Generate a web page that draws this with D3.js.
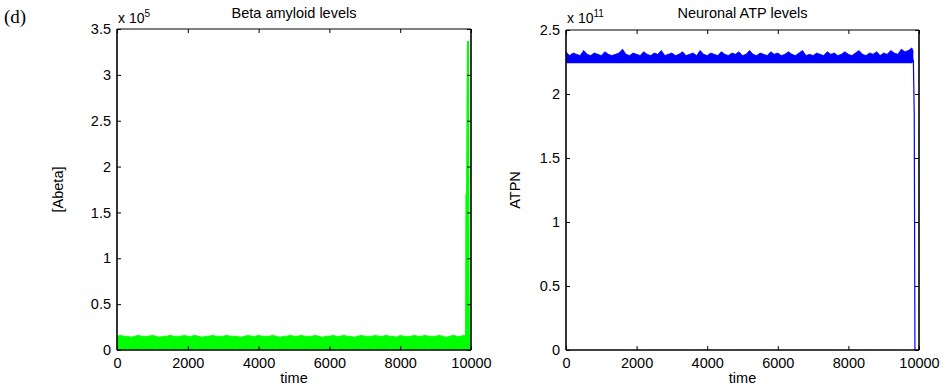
<!DOCTYPE html>
<html>
<head>
<meta charset="utf-8">
<script src="https://cdn.jsdelivr.net/npm/d3@7"></script>
<style>
  body { margin: 0; background: #fff; }
  text { font-family: "Liberation Sans", Arial, sans-serif; fill: #000; }
</style>
</head>
<body>
<div id="chart"></div>
<script>
const w = 946;
const h = 390;

// x categories (time) and tick labels
const xTicks = [0, 2000, 4000, 6000, 8000, 10000];
const abetaTicks = [0, 0.5, 1, 1.5, 2, 2.5, 3, 3.5];
const atpTicks = [0, 0.5, 1, 1.5, 2, 2.5];

// sampling grid of the noisy band (min/max envelope every 100 steps, then the last sample)
const abetaTime = d3.range(0, 9801, 100).concat([9860]);
const atpTime = d3.range(0, 9801, 100).concat([9840]);

// Beta amyloid, units of 1e5
const abetaHi = [0.15, 0.16, 0.15, 0.15, 0.14, 0.15, 0.16, 0.15, 0.15, 0.15,
  0.16, 0.15, 0.14, 0.15, 0.15, 0.16, 0.15, 0.15, 0.15, 0.16,
  0.15, 0.15, 0.16, 0.15, 0.14, 0.15, 0.15, 0.16, 0.15, 0.15,
  0.15, 0.16, 0.15, 0.15, 0.15, 0.14, 0.15, 0.16, 0.15, 0.15,
  0.16, 0.15, 0.15, 0.15, 0.16, 0.15, 0.14, 0.15, 0.15, 0.16,
  0.15, 0.15, 0.16, 0.15, 0.15, 0.15, 0.16, 0.15, 0.14, 0.15,
  0.15, 0.16, 0.15, 0.15, 0.16, 0.15, 0.15, 0.14, 0.15, 0.16,
  0.15, 0.15, 0.15, 0.16, 0.15, 0.15, 0.16, 0.15, 0.15, 0.14,
  0.16, 0.15, 0.15, 0.15, 0.16, 0.15, 0.15, 0.16, 0.15, 0.15,
  0.15, 0.16, 0.15, 0.14, 0.15, 0.16, 0.15, 0.15, 0.16, 0.15];
const abetaLo = [0.01, 0.00, 0.00, 0.01, 0.00, 0.00, 0.00, 0.01, 0.00, 0.00,
  0.00, 0.01, 0.00, 0.00, 0.00, 0.01, 0.00, 0.00, 0.01, 0.00,
  0.00, 0.00, 0.01, 0.00, 0.00, 0.00, 0.01, 0.00, 0.00, 0.00,
  0.01, 0.00, 0.00, 0.00, 0.01, 0.00, 0.00, 0.01, 0.00, 0.00,
  0.00, 0.00, 0.01, 0.00, 0.00, 0.01, 0.00, 0.00, 0.00, 0.01,
  0.00, 0.01, 0.00, 0.00, 0.00, 0.01, 0.00, 0.00, 0.01, 0.00,
  0.00, 0.00, 0.01, 0.00, 0.00, 0.00, 0.01, 0.00, 0.00, 0.00,
  0.01, 0.00, 0.00, 0.01, 0.00, 0.00, 0.00, 0.01, 0.00, 0.00,
  0.00, 0.01, 0.00, 0.00, 0.00, 0.01, 0.00, 0.00, 0.01, 0.00,
  0.00, 0.00, 0.01, 0.00, 0.00, 0.00, 0.01, 0.00, 0.00, 0.00];
const abetaTailT = [9860, 9870, 9885, 9900, 9915, 9930, 9945];
const abetaTailV = [0.15, 1.70, 1.45, 2.60, 3.37, 0.90, 0.00];

// Neuronal ATP, units of 1e11
const atpHi = [2.33, 2.30, 2.32, 2.31, 2.30, 2.34, 2.31, 2.30, 2.32, 2.31,
  2.30, 2.33, 2.31, 2.30, 2.31, 2.32, 2.35, 2.31, 2.30, 2.32,
  2.31, 2.30, 2.33, 2.31, 2.30, 2.32, 2.31, 2.34, 2.30, 2.31,
  2.32, 2.30, 2.31, 2.33, 2.30, 2.31, 2.32, 2.30, 2.34, 2.31,
  2.30, 2.32, 2.31, 2.30, 2.33, 2.31, 2.30, 2.32, 2.31, 2.33,
  2.30, 2.31, 2.34, 2.31, 2.30, 2.32, 2.31, 2.30, 2.33, 2.31,
  2.32, 2.30, 2.31, 2.33, 2.31, 2.30, 2.32, 2.34, 2.30, 2.31,
  2.30, 2.32, 2.31, 2.30, 2.33, 2.31, 2.32, 2.30, 2.31, 2.33,
  2.31, 2.30, 2.32, 2.34, 2.31, 2.30, 2.32, 2.31, 2.33, 2.30,
  2.32, 2.31, 2.34, 2.32, 2.31, 2.35, 2.33, 2.34, 2.36, 2.33];
const atpLo = [2.24, 2.24, 2.24, 2.24, 2.24, 2.24, 2.24, 2.24, 2.24, 2.24,
  2.24, 2.24, 2.24, 2.24, 2.24, 2.24, 2.24, 2.24, 2.24, 2.24,
  2.24, 2.24, 2.24, 2.24, 2.24, 2.24, 2.24, 2.24, 2.24, 2.24,
  2.24, 2.24, 2.24, 2.24, 2.24, 2.24, 2.24, 2.24, 2.24, 2.24,
  2.24, 2.24, 2.24, 2.24, 2.24, 2.24, 2.24, 2.24, 2.24, 2.24,
  2.24, 2.24, 2.24, 2.24, 2.24, 2.24, 2.24, 2.24, 2.24, 2.24,
  2.24, 2.24, 2.24, 2.24, 2.24, 2.24, 2.24, 2.24, 2.24, 2.24,
  2.24, 2.24, 2.24, 2.24, 2.24, 2.24, 2.24, 2.24, 2.24, 2.24,
  2.24, 2.24, 2.24, 2.24, 2.24, 2.24, 2.24, 2.24, 2.24, 2.24,
  2.24, 2.24, 2.24, 2.24, 2.24, 2.24, 2.24, 2.24, 2.24, 2.25];
const atpTailT = [9840, 9865, 9885];
const atpTailV = [2.27, 1.85, 0.00];

const svg = d3.select("#chart")
  .append("svg")
  .attr("width", w)
  .attr("height", h);

svg.append("text")
  .attr("x", 4)
  .attr("y", 23)
  .style("font-family", "'Liberation Serif', 'DejaVu Serif', serif")
  .style("font-size", "19px")
  .text("(d)");

function panel(o) {
  const x = d3.scaleLinear().domain([0, 10000]).range([o.left, o.right]);
  const y = d3.scaleLinear().domain([0, o.ymax]).range([o.bottom, o.top]);

  const g = svg.append("g");

  // noisy band, drawn as its min/max envelope
  const band = o.t.map((t, i) => [t, o.lo[i], o.hi[i]]);
  g.append("path")
    .datum(band)
    .attr("fill", o.color)
    .attr("d", d3.area().x(d => x(d[0])).y0(d => y(d[1])).y1(d => y(d[2])));
  g.append("path")
    .datum(band)
    .attr("fill", "none")
    .attr("stroke", o.color)
    .attr("stroke-width", 0.8)
    .attr("d", d3.line().x(d => x(d[0])).y(d => y(d[2])));

  // final excursion
  const tail = o.tailT.map((t, i) => [t, o.tailV[i]]);
  if (o.tailFill) {
    g.append("path")
      .datum(tail)
      .attr("fill", o.color)
      .attr("d", d3.area().x(d => x(d[0])).y0(y(0)).y1(d => y(d[1])));
  }
  g.append("path")
    .datum(tail)
    .attr("fill", "none")
    .attr("stroke", o.color)
    .attr("stroke-width", o.tailW)
    .attr("d", d3.line().x(d => x(d[0])).y(d => y(d[1])));

  // axes (inward ticks on all four sides, closed box)
  const ax = d3.axisBottom(x).tickValues(xTicks).tickSize(-4).tickPadding(8).tickFormat(d3.format("d"));
  const ay = d3.axisLeft(y).tickValues(o.yTicks).tickSize(-4).tickPadding(6).tickFormat(d => d);
  const axT = d3.axisTop(x).tickValues(xTicks).tickSize(-4).tickFormat("");
  const ayR = d3.axisRight(y).tickValues(o.yTicks).tickSize(-4).tickFormat("");

  g.append("g").attr("transform", "translate(0," + o.bottom + ")").call(ax);
  g.append("g").attr("transform", "translate(" + o.left + ",0)").call(ay);
  g.append("g").attr("transform", "translate(0," + o.top + ")").call(axT);
  g.append("g").attr("transform", "translate(" + o.right + ",0)").call(ayR);

  g.selectAll(".domain").remove();
  g.selectAll(".tick line").attr("stroke", "#000");
  g.selectAll(".tick text").style("font-size", "14.5px").attr("fill", "#000");

  g.append("line").attr("x1", o.left).attr("x2", o.right).attr("y1", o.top).attr("y2", o.top)
    .attr("stroke", "#000").attr("stroke-width", 1);
  g.append("line").attr("x1", o.left).attr("x2", o.right).attr("y1", o.bottom).attr("y2", o.bottom)
    .attr("stroke", "#000").attr("stroke-width", 1.6);
  g.append("line").attr("x1", o.left).attr("x2", o.left).attr("y1", o.top).attr("y2", o.bottom)
    .attr("stroke", "#000").attr("stroke-width", 1.6);
  g.append("line").attr("x1", o.right).attr("x2", o.right).attr("y1", o.top).attr("y2", o.bottom)
    .attr("stroke", "#000").attr("stroke-width", 1.6);

  // exponent
  const ex = g.append("text").attr("x", o.left + 1).attr("y", 23).style("font-size", "14px");
  ex.append("tspan").text("x 10");
  ex.append("tspan").attr("dy", -6).style("font-size", "10px").text(o.exp);

  g.append("text")
    .attr("x", (o.left + o.right) / 2)
    .attr("y", 18)
    .attr("text-anchor", "middle")
    .style("font-size", "14.5px")
    .text(o.title);

  g.append("text")
    .attr("x", (o.left + o.right) / 2)
    .attr("y", 383)
    .attr("text-anchor", "middle")
    .style("font-size", "14.5px")
    .text("time");

  g.append("text")
    .attr("transform", "translate(" + o.ylabX + "," + (o.top + o.bottom) / 2 + ") rotate(-90)")
    .attr("text-anchor", "middle")
    .style("font-size", "14.5px")
    .text(o.ylab);
}

panel({
  left: 117, right: 471, top: 29, bottom: 350, ymax: 3.5,
  t: abetaTime, hi: abetaHi, lo: abetaLo, tailT: abetaTailT, tailV: abetaTailV, tailW: 2, tailFill: true,
  color: "#00ff00", yTicks: abetaTicks, exp: "5",
  title: "Beta amyloid levels", ylab: "[Abeta]", ylabX: 63
});

panel({
  left: 566, right: 919, top: 30, bottom: 350, ymax: 2.5,
  t: atpTime, hi: atpHi, lo: atpLo, tailT: atpTailT, tailV: atpTailV, tailW: 1.2, tailFill: false,
  color: "#0000ff", yTicks: atpTicks, exp: "11",
  title: "Neuronal ATP levels", ylab: "ATPN", ylabX: 520
});
</script>
</body>
</html>
